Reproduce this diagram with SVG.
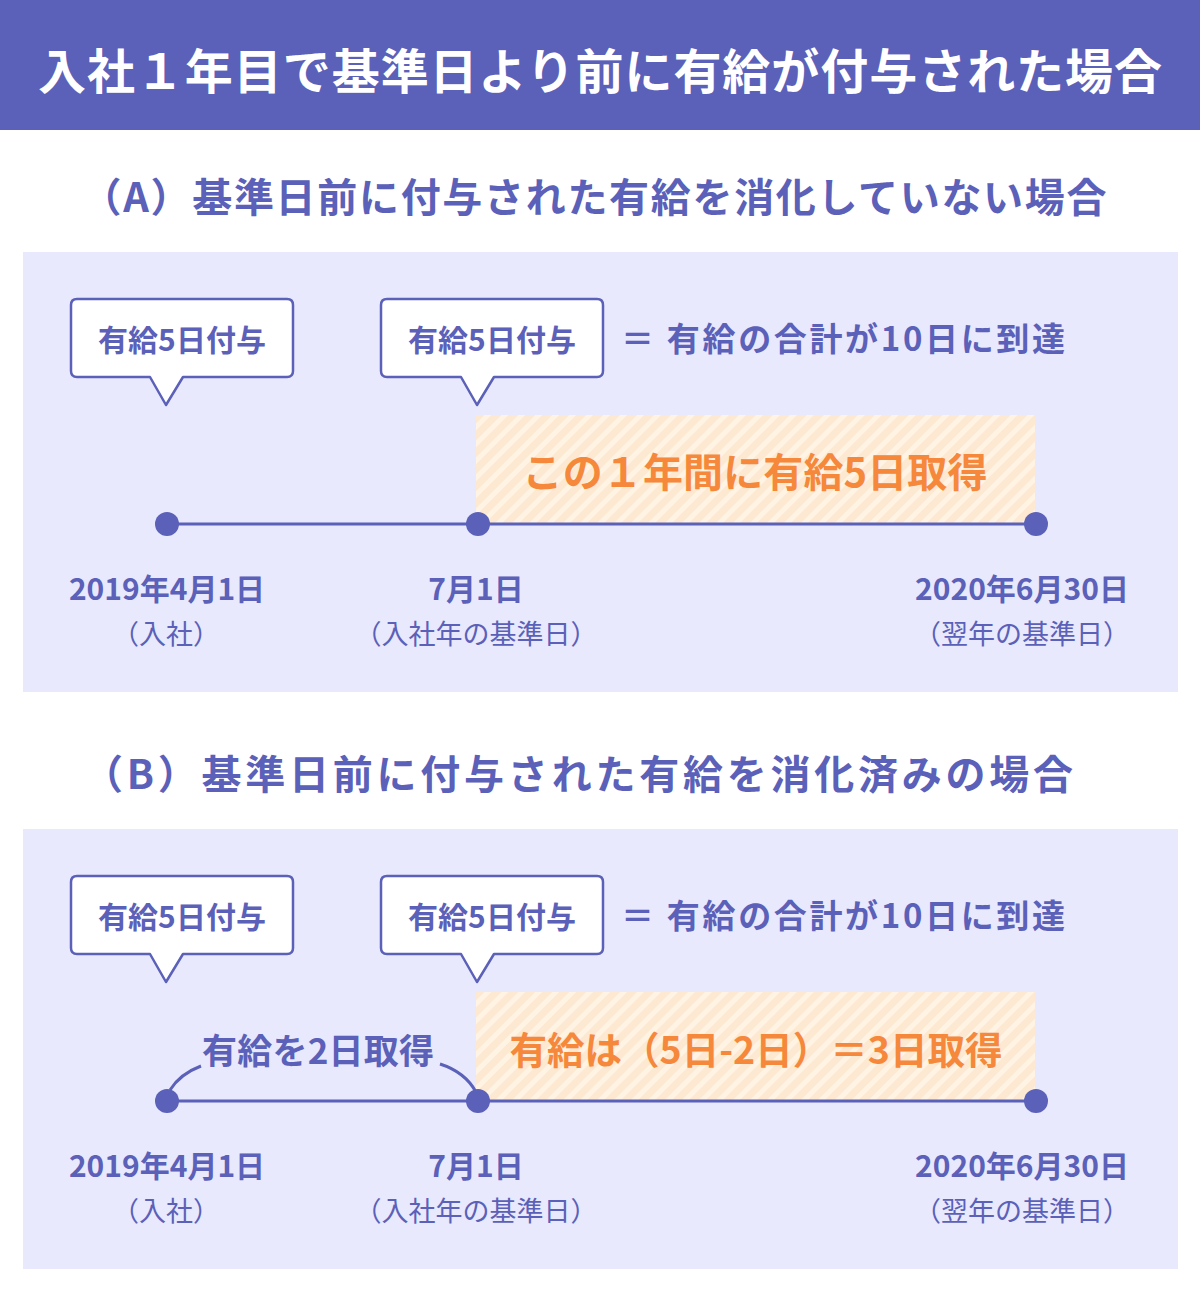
<svg xmlns="http://www.w3.org/2000/svg" width="1200" height="1298" viewBox="0 0 1200 1298">
<style>
text{font-family:"Noto Sans CJK JP","Noto Sans",sans-serif;dominant-baseline:central;text-anchor:middle}
.t{fill:#fff;font-weight:700;font-size:48px}
.h{fill:#5b60b8;font-weight:700;font-size:40px}
.c{fill:#5b60b8;font-weight:700;font-size:30px}
.e{fill:#5b60b8;font-weight:700;font-size:33px}
.g{fill:#5b60b8;font-weight:700;font-size:35px}
.o{fill:#f5883a;font-weight:700;font-size:40px}
.d{fill:#5b60b8;font-weight:700;font-size:30px}
.p{fill:#5b60b8;font-weight:400;font-size:27px}
.panel{fill:#e8e9fc}
.box{fill:#fff;stroke:#5b60b8;stroke-width:2.5;stroke-linejoin:round}
.ln{stroke:#5b60b8;stroke-width:3;fill:none}
.dot{fill:#5b60b8}
</style>
<defs>
<pattern id="hatch" width="12" height="12" patternUnits="userSpaceOnUse" patternTransform="rotate(45)">
<rect width="12" height="12" fill="#fde8d1"/>
<rect width="5" height="12" fill="#fff3e4"/>
</pattern>
</defs>
<rect width="1200" height="1298" fill="#fff"/>
<g id="header">
<rect x="0" y="0" width="1200" height="130" fill="#5b60b8"/>
<text class="t" x="600" y="68" textLength="1124" lengthAdjust="spacing">入社１年目で基準日より前に有給が付与された場合</text>
</g>
<g id="sectionA">
<text class="h" x="594" y="195" textLength="1025" lengthAdjust="spacing">（A）基準日前に付与された有給を消化していない場合</text>
<rect class="panel" x="23" y="252" width="1155" height="440"/>
<g id="A-hatch">
<rect x="476" y="415" width="559" height="109" fill="url(#hatch)"/>
<text class="o" x="755" y="470" textLength="465" lengthAdjust="spacing">この１年間に有給5日取得</text>
</g>
<g id="A-callout1">
<path class="box" d="M77,299 H287 Q293,299 293,305 V371 Q293,377 287,377 H183 L166,405 L150,377 H77 Q71,377 71,371 V305 Q71,299 77,299 Z"/>
<text class="c" x="182" y="338" textLength="168" lengthAdjust="spacing">有給5日付与</text>
</g>
<g id="A-callout2">
<path class="box" d="M387,299 H597 Q603,299 603,305 V371 Q603,377 597,377 H494 L477,405 L461,377 H387 Q381,377 381,371 V305 Q381,299 387,299 Z"/>
<text class="c" x="492" y="338" textLength="168" lengthAdjust="spacing">有給5日付与</text>
</g>
<text class="e" x="843" y="337" textLength="444" lengthAdjust="spacing">＝ 有給の合計が10日に到達</text>
<g id="A-connectors">
<line class="ln" x1="167" y1="524" x2="1036" y2="524"/>
</g>
<g id="A-dates">
<circle class="dot" cx="167" cy="524" r="12"/>
<circle class="dot" cx="478" cy="524" r="12"/>
<circle class="dot" cx="1036" cy="524" r="12"/>
<text class="d" x="167" y="587">2019年4月1日</text>
<text class="p" x="166" y="632">（入社）</text>
<text class="d" x="476" y="587">7月1日</text>
<text class="p" x="476" y="632">（入社年の基準日）</text>
<text class="d" x="1022" y="587">2020年6月30日</text>
<text class="p" x="1022" y="632">（翌年の基準日）</text>
</g>
</g>
<g id="sectionB">
<text class="h" x="578" y="772" textLength="990" lengthAdjust="spacing">（B）基準日前に付与された有給を消化済みの場合</text>
<rect class="panel" x="23" y="829" width="1155" height="440"/>
<g id="B-hatch">
<rect x="476" y="992" width="559" height="109" fill="url(#hatch)"/>
<text class="o" x="756" y="1047" style="font-size:38px" textLength="493" lengthAdjust="spacingAndGlyphs">有給は（5日-2日）＝3日取得</text>
</g>
<g id="B-callout1">
<path class="box" d="M77,876 H287 Q293,876 293,882 V948 Q293,954 287,954 H183 L166,982 L150,954 H77 Q71,954 71,948 V882 Q71,876 77,876 Z"/>
<text class="c" x="182" y="915" textLength="168" lengthAdjust="spacing">有給5日付与</text>
</g>
<g id="B-callout2">
<path class="box" d="M387,876 H597 Q603,876 603,882 V948 Q603,954 597,954 H494 L477,982 L461,954 H387 Q381,954 381,948 V882 Q381,876 387,876 Z"/>
<text class="c" x="492" y="915" textLength="168" lengthAdjust="spacing">有給5日付与</text>
</g>
<text class="e" x="843" y="914" textLength="444" lengthAdjust="spacing">＝ 有給の合計が10日に到達</text>
<g id="B-connectors">
<line class="ln" x1="167" y1="1101" x2="1036" y2="1101"/>
<path class="ln" d="M170,1090 Q180,1074 201,1066"/>
<path class="ln" d="M440,1064 Q465,1072 476,1092"/>
</g>
<text class="g" x="318" y="1048" textLength="232" lengthAdjust="spacing">有給を2日取得</text>
<g id="B-dates">
<circle class="dot" cx="167" cy="1101" r="12"/>
<circle class="dot" cx="478" cy="1101" r="12"/>
<circle class="dot" cx="1036" cy="1101" r="12"/>
<text class="d" x="167" y="1164">2019年4月1日</text>
<text class="p" x="166" y="1209">（入社）</text>
<text class="d" x="476" y="1164">7月1日</text>
<text class="p" x="476" y="1209">（入社年の基準日）</text>
<text class="d" x="1022" y="1164">2020年6月30日</text>
<text class="p" x="1022" y="1209">（翌年の基準日）</text>
</g>
</g>
</svg>
